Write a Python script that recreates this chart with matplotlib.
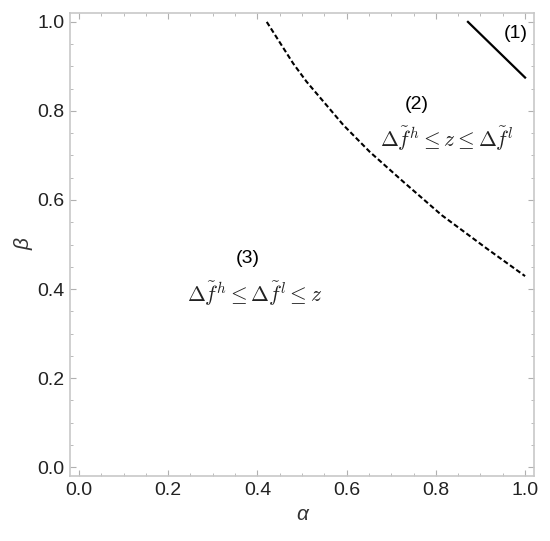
import matplotlib
matplotlib.use('Agg')
import matplotlib.pyplot as plt
import numpy as np

# boundary between regions (1) and (2)
alpha_12 = [0.872, 1.0]
beta_12 = [1.0, 0.875]

# boundary between regions (2) and (3)
alpha_23 = [0.421, 0.480, 0.510, 0.593, 0.652, 0.727, 0.813, 0.914, 1.0]
beta_23 = [1.0, 0.907, 0.866, 0.768, 0.708, 0.641, 0.566, 0.491, 0.429]

region_labels = ['(1)', '(2)', '(3)']
region_x = [0.978, 0.757, 0.379]
region_y = [0.975, 0.814, 0.469]
region_text = ['', r'$\Delta\tilde{f}^h \leq z \leq \Delta\tilde{f}^l$',
               r'$\Delta\tilde{f}^h \leq \Delta\tilde{f}^l \leq z$']
text_x = [0, 0.824, 0.395]
text_y = [0, 0.738, 0.390]

plt.rcParams['font.family'] = ['Liberation Sans', 'DejaVu Sans']
plt.rcParams['mathtext.fontset'] = 'cm'

fig = plt.figure(figsize=(5.5, 5.41), dpi=100)
ax = fig.add_axes([70/550., 1-476/541., 464/550., 463/541.])

ax.plot(alpha_12, beta_12, c='black', linewidth=1.6)
ax.plot(alpha_23, beta_23, c='black', linewidth=1.5, linestyle=(0, (2.4, 1.3)))

for i in range(3):
	ax.text(region_x[i], region_y[i], region_labels[i], fontsize=14, ha='center', va='center', color='black')
	if region_text[i] != '':
		ax.text(text_x[i], text_y[i], region_text[i], fontsize=15.5, ha='center', va='center', color='#222222')

ax.set_xlim(-0.02, 1.02)
ax.set_ylim(-0.02, 1.02)
ax.set_xticks(np.arange(0, 1.01, 0.2))
ax.set_yticks(np.arange(0, 1.01, 0.2))
ax.set_xticks(np.arange(0, 1.01, 0.05), minor=True)
ax.set_yticks(np.arange(0, 1.01, 0.05), minor=True)
ax.set_xticklabels(['%.1f' % v for v in np.arange(0, 1.01, 0.2)])
ax.set_yticklabels(['%.1f' % v for v in np.arange(0, 1.01, 0.2)])
ax.tick_params(which='both', direction='in', top=True, right=True, color='#b0b0b0', labelsize=14, labelcolor='#222222')
ax.tick_params(which='major', length=4, width=0.8, pad=4)
ax.tick_params(which='minor', length=2.5, width=0.6)
for s in ax.spines.values():
	s.set_color('#c8c8c8')
	s.set_linewidth(1.2)

ax.set_xlabel(u'\u03b1', fontsize=15, color='#333333', labelpad=5, style='italic')
ax.set_ylabel(u'\u03b2', fontsize=15, color='#333333', labelpad=3, style='italic')

fig.savefig('out.png', dpi=100)
